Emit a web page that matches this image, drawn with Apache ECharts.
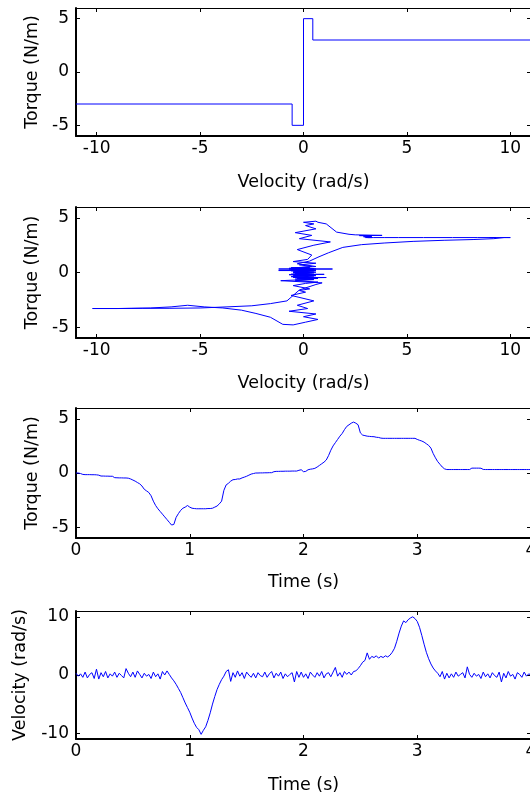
<!DOCTYPE html>
<html><head><meta charset="utf-8">
<script src="https://cdn.jsdelivr.net/npm/echarts@6/dist/echarts.min.js"></script>
<style>html,body{margin:0;padding:0;background:#fff}#c{width:530px;height:796px}</style>
</head><body><div id="c"></div><script>
// Plot 1: ideal friction model (step curve)
const stepVelocity = [-11, -0.55, -0.55, 0, 0, 0.45, 0.45, 11];
const stepTorque   = [-3, -3, -5, -5, 5, 5, 3, 3];

// Measured time series (sampled every 0.02 s)
const time = [
 0.00,0.02,0.04,0.06,0.08,0.10,0.12,0.14,0.16,0.18,
 0.20,0.22,0.24,0.26,0.28,0.30,0.32,0.34,0.36,0.38,
 0.40,0.42,0.44,0.46,0.48,0.50,0.52,0.54,0.56,0.58,
 0.60,0.62,0.64,0.66,0.68,0.70,0.72,0.74,0.76,0.78,
 0.80,0.82,0.84,0.86,0.88,0.90,0.92,0.94,0.96,0.98,
 1.00,1.02,1.04,1.06,1.08,1.10,1.12,1.14,1.16,1.18,
 1.20,1.22,1.24,1.26,1.28,1.30,1.32,1.34,1.36,1.38,
 1.40,1.42,1.44,1.46,1.48,1.50,1.52,1.54,1.56,1.58,
 1.60,1.62,1.64,1.66,1.68,1.70,1.72,1.74,1.76,1.78,
 1.80,1.82,1.84,1.86,1.88,1.90,1.92,1.94,1.96,1.98,
 2.00,2.02,2.04,2.06,2.08,2.10,2.12,2.14,2.16,2.18,
 2.20,2.22,2.24,2.26,2.28,2.30,2.32,2.34,2.36,2.38,
 2.40,2.42,2.44,2.46,2.48,2.50,2.52,2.54,2.56,2.58,
 2.60,2.62,2.64,2.66,2.68,2.70,2.72,2.74,2.76,2.78,
 2.80,2.82,2.84,2.86,2.88,2.90,2.92,2.94,2.96,2.98,
 3.00,3.02,3.04,3.06,3.08,3.10,3.12,3.14,3.16,3.18,
 3.20,3.22,3.24,3.26,3.28,3.30,3.32,3.34,3.36,3.38,
 3.40,3.42,3.44,3.46,3.48,3.50,3.52,3.54,3.56,3.58,
 3.60,3.62,3.64,3.66,3.68,3.70,3.72,3.74,3.76,3.78,
 3.80,3.82,3.84,3.86,3.88,3.90,3.92,3.94,3.96,3.98,
 4.00
];
const torque = [
 0.00,0.00,-0.05,-0.13,-0.15,-0.15,-0.15,-0.16,-0.16,-0.17,
 -0.20,-0.28,-0.28,-0.29,-0.29,-0.30,-0.30,-0.43,-0.44,-0.45,
 -0.45,-0.46,-0.46,-0.48,-0.55,-0.65,-0.75,-0.88,-1.00,-1.20,
 -1.50,-1.65,-1.80,-2.10,-2.60,-3.00,-3.30,-3.55,-3.80,-4.05,
 -4.30,-4.55,-4.80,-4.75,-4.10,-3.75,-3.45,-3.25,-3.15,-3.00,
 -3.15,-3.25,-3.28,-3.30,-3.30,-3.30,-3.30,-3.30,-3.28,-3.28,
 -3.25,-3.15,-3.05,-2.85,-2.60,-1.60,-1.10,-0.95,-0.75,-0.62,
 -0.60,-0.55,-0.55,-0.45,-0.38,-0.30,-0.20,-0.10,-0.05,0.00,
 0.00,0.01,0.01,0.02,0.02,0.03,0.03,0.12,0.15,0.15,
 0.16,0.16,0.17,0.17,0.17,0.18,0.18,0.18,0.25,0.30,
 0.12,0.15,0.30,0.35,0.38,0.43,0.55,0.70,0.85,1.00,
 1.20,1.60,2.10,2.50,2.80,3.10,3.40,3.65,4.00,4.30,
 4.45,4.60,4.70,4.60,4.45,3.70,3.50,3.45,3.40,3.38,
 3.36,3.35,3.30,3.28,3.22,3.20,3.20,3.20,3.20,3.20,
 3.20,3.20,3.20,3.20,3.20,3.20,3.20,3.20,3.20,3.20,
 3.10,3.02,2.95,2.85,2.70,2.55,2.30,1.80,1.40,1.05,
 0.80,0.55,0.38,0.32,0.32,0.32,0.32,0.32,0.32,0.32,
 0.32,0.32,0.32,0.32,0.45,0.45,0.45,0.45,0.44,0.33,
 0.32,0.32,0.32,0.32,0.32,0.32,0.32,0.32,0.32,0.32,
 0.32,0.32,0.32,0.32,0.32,0.32,0.32,0.32,0.32,0.32,
 0.32
];
const velocity = [
 0.3,-0.2,0.2,-0.4,0.5,-0.5,0.1,0.4,-0.6,1.0,
 -0.7,0.4,-0.3,0.6,-0.5,0.2,-0.2,0.5,-0.4,0.3,
 -0.1,-0.5,1.1,0.3,-0.3,0.5,-0.4,0.7,0.1,-0.5,
 0.3,-0.2,0.1,-0.6,0.5,-0.3,0.2,-0.7,0.6,0.0,
 0.7,0.1,-0.5,-1.0,-1.6,-2.3,-3.0,-3.9,-4.8,-5.6,
 -6.4,-7.4,-8.3,-9.0,-9.4,-10.2,-9.5,-8.9,-7.8,-6.5,
 -5.0,-3.7,-2.5,-1.6,-0.8,-0.2,0.6,0.9,-1.1,0.4,
 -0.4,0.7,-0.2,0.4,-0.6,0.5,0.0,-0.4,0.3,-0.5,
 0.4,-0.1,-0.3,0.5,-0.4,0.2,0.6,-0.5,0.3,-0.2,
 0.5,-0.6,0.2,-0.3,0.1,0.4,-1.2,0.6,-0.4,0.5,
 -0.4,0.2,-0.6,0.5,0.0,-0.4,0.4,-0.2,0.6,-0.5,
 0.2,0.4,-0.3,0.5,1.3,-0.2,0.4,-0.4,0.6,0.1,
 0.5,0.0,0.6,0.7,1.1,1.6,2.2,2.5,3.8,2.7,
 3.2,3.0,3.3,2.9,3.2,3.0,3.3,3.1,3.4,3.9,
 4.6,5.8,7.2,8.4,9.3,9.0,9.5,9.8,10.0,9.7,
 9.2,8.2,6.8,5.3,3.9,2.8,1.9,1.2,0.7,0.3,
 -0.3,0.6,-0.7,0.3,-0.5,0.2,-0.4,0.5,-0.2,0.1,
 0.4,-0.5,1.4,0.1,-0.4,0.3,-0.2,0.1,-0.6,0.5,
 -0.3,0.2,-0.5,0.4,-0.1,-0.4,0.5,-1.2,0.3,-0.5,
 0.6,-0.2,0.1,-0.7,0.4,0.1,-0.4,0.5,-0.2,0.2,
 0.0
];

// Tick labels
const velocityTicks = [-10, -5, 0, 5, 10];
const torqueTicks = [-5, 0, 5];
const timeTicks = [0, 1, 2, 3, 4];
const velocityYTicks = [-10, 0, 10];

function pairs(xs, ys) { return xs.map((x, i) => [x, ys[i]]); }

const FONT = 'DejaVu Sans';
const BLUE = '#0000ff';
const grids = [
  { left: 76, width: 455, top: 8, height: 128, outerBoundsMode: 'none', containLabel: false },
  { left: 76, width: 455, top: 207, height: 131, outerBoundsMode: 'none', containLabel: false },
  { left: 76, width: 455, top: 408, height: 130, outerBoundsMode: 'none', containLabel: false },
  { left: 76, width: 455, top: 611, height: 128, outerBoundsMode: 'none', containLabel: false }
];
const mainLine = { show: true, onZero: false, lineStyle: { color: '#000', width: 2 } };
const thinLine = { show: true, onZero: false, lineStyle: { color: '#000', width: 1 } };

function xAxes(gi, min, max, ticks, name, gap) {
  return [
    { type: 'value', gridIndex: gi, position: 'bottom', min, max,
      name, nameLocation: 'middle', nameGap: gap,
      nameTextStyle: { color: '#000', fontSize: 17.5, fontFamily: FONT },
      axisLine: mainLine,
      axisTick: { show: true, inside: true, length: 4, customValues: ticks, lineStyle: { color: '#000' } },
      axisLabel: { show: true, customValues: ticks, color: '#000', fontSize: 17, fontFamily: FONT, margin: 4 },
      splitLine: { show: false } },
    { type: 'value', gridIndex: gi, position: 'top', min, max,
      axisLine: thinLine,
      axisTick: { show: true, inside: true, length: 4, customValues: ticks, lineStyle: { color: '#000' } },
      axisLabel: { show: false }, splitLine: { show: false } }
  ];
}
function yAxes(gi, min, max, ticks, name, gap) {
  return [
    { type: 'value', gridIndex: gi, position: 'left', min, max,
      name, nameLocation: 'middle', nameGap: gap,
      nameTextStyle: { color: '#000', fontSize: 17.5, fontFamily: FONT },
      axisLine: mainLine,
      axisTick: { show: true, inside: true, length: 4, customValues: ticks, lineStyle: { color: '#000' } },
      axisLabel: { show: true, customValues: ticks, color: '#000', fontSize: 17, fontFamily: FONT, margin: 7 },
      splitLine: { show: false } },
    { type: 'value', gridIndex: gi, position: 'right', min, max,
      axisLine: thinLine,
      axisTick: { show: true, inside: true, length: 4, customValues: ticks, lineStyle: { color: '#000' } },
      axisLabel: { show: false }, splitLine: { show: false } }
  ];
}

const xAxis = [].concat(
  xAxes(0, -11, 11, velocityTicks, 'Velocity (rad/s)', 37),
  xAxes(1, -11, 11, velocityTicks, 'Velocity (rad/s)', 36),
  xAxes(2, 0, 4, timeTicks, 'Time (s)', 35),
  xAxes(3, 0, 4, timeTicks, 'Time (s)', 37)
);
const yAxis = [].concat(
  yAxes(0, -6, 6, torqueTicks, 'Torque (N/m)', 35),
  yAxes(1, -6, 6, torqueTicks, 'Torque (N/m)', 35),
  yAxes(2, -6, 6, torqueTicks, 'Torque (N/m)', 35),
  yAxes(3, -11, 11, velocityYTicks, 'Velocity (rad/s)', 47)
);

function lineSeries(idx, data) {
  return { type: 'line', xAxisIndex: idx * 2, yAxisIndex: idx * 2, data,
    showSymbol: false, symbol: 'none', clip: true,
    lineStyle: { color: BLUE, width: 1 }, silent: true };
}

const chart = echarts.init(document.getElementById('c'), null, { renderer: 'canvas' });
chart.setOption({
  backgroundColor: '#fff',
  animation: false,
  textStyle: { fontFamily: FONT },
  grid: grids,
  xAxis, yAxis,
  series: [
    lineSeries(0, pairs(stepVelocity, stepTorque)),
    lineSeries(1, pairs(velocity, torque)),
    lineSeries(2, pairs(time, torque)),
    lineSeries(3, pairs(time, velocity))
  ]
});
</script></body></html>
